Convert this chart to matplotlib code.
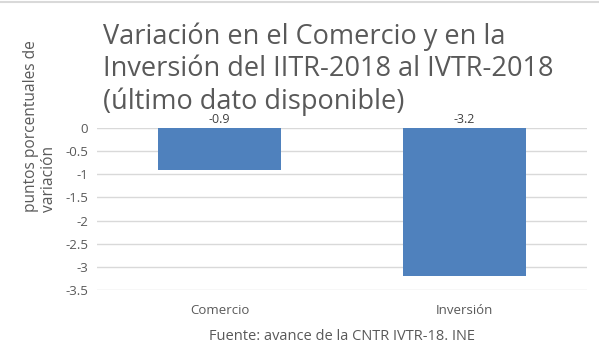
import matplotlib.pyplot as plt

categorias = ["Comercio", "Inversión"]
valores = [-0.9, -3.2]
etiquetas = ["-0.9", "-3.2"]
yticks = [0, -0.5, -1, -1.5, -2, -2.5, -3, -3.5]
ytick_labels = ["0", "-0.5", "-1", "-1.5", "-2", "-2.5", "-3", "-3.5"]

plt.rcParams['font.family'] = ['Open Sans', 'DejaVu Sans']
gris = '#595959'

fig = plt.figure(figsize=(5.99, 3.54), dpi=100)
ax = fig.add_axes([0.162, 0.181, 0.818, 0.457])

x = range(len(categorias))
ax.bar(x, valores, width=0.5, color='#4F81BD', zorder=3)
for i, v in enumerate(valores):
    ax.text(i, 0.04, etiquetas[i], ha='center', va='bottom', fontsize=9, color='#404040')

ax.set_xlim(-0.5, 1.5)
ax.set_ylim(-3.5, 0)
ax.set_yticks(yticks)
ax.set_yticklabels(ytick_labels)
ax.set_xticks(list(x))
ax.set_xticklabels(categorias)
ax.tick_params(axis='both', length=0, labelsize=9.5, colors=gris)
ax.tick_params(axis='x', pad=10)
ax.tick_params(axis='y', pad=6.5)
ax.grid(axis='y', color='#d9d9d9', linewidth=1, zorder=0)
for s in ax.spines.values():
    s.set_visible(False)

# etiqueta del eje y (alineada por el inicio de las líneas, como en Excel)
fig.text(0.067, 0.401, "puntos porcentuales de\nvariación", rotation=90, ha='center', va='bottom',
         multialignment='left', fontsize=11.2, color=gris, linespacing=1.15)

fig.text(0.172, 0.937, "Variación en el Comercio y en la\nInversión del IITR-2018 al IVTR-2018\n(último dato disponible)",
         ha='left', va='top', fontsize=19.5, color=gris, linespacing=1.2)
fig.text(0.571, 0.05, "Fuente: avance de la CNTR IVTR-18. INE", ha='center', va='center',
         fontsize=10.5, color=gris)

fig.add_artist(plt.Line2D([0, 1], [0.995, 0.995], color='#d9d9d9', linewidth=1.5))

fig.savefig("out.png", dpi=100)
